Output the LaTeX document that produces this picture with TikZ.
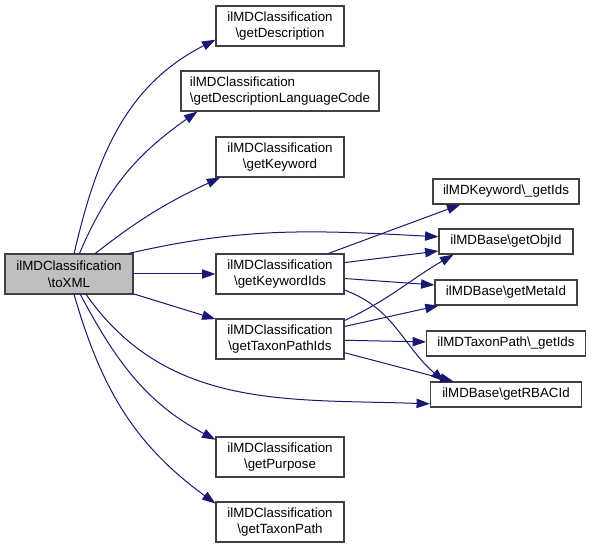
\documentclass[tikz,border=0pt]{standalone}
\usepackage{fontspec}
\setmainfont{Liberation Sans}
\usetikzlibrary{arrows.meta}
\definecolor{edgeblue}{HTML}{191970}
\definecolor{boxline}{HTML}{404040}
\definecolor{rootfill}{HTML}{BFBFBF}

\begin{document}
\begin{tikzpicture}[x=0.75pt, y=-0.75pt,
    fn/.style={draw=boxline, line width=0.9pt, fill=white, align=center,
        font=\fontsize{10}{12.5}\selectfont, inner sep=2pt,
        minimum width=96pt, minimum height=30pt},
    fnsmall/.style={fn, minimum height=18.75pt},
    call/.style={edgeblue, line width=0.75pt, -{Triangle[length=10pt,width=7pt]}}]
    \useasboundingbox (0,0) rectangle (591,548);

    % Caller
    \node[fn, fill=rootfill] (toxml) at (69,274) {ilMDClassification\\\textbackslash{}toXML};

    % Direct callees
    \node[fn] (desc) at (280,26) {ilMDClassification\\\textbackslash{}getDescription};
    \node[fn, align=left, minimum width=148.5pt] (dlc) at (280,91) {ilMDClassification\\\textbackslash{}getDescriptionLanguageCode};
    \node[fn] (kw) at (280,157) {ilMDClassification\\\textbackslash{}getKeyword};
    \node[fn] (kwids) at (280,274) {ilMDClassification\\\textbackslash{}getKeywordIds};
    \node[fn] (tpids) at (280,339) {ilMDClassification\\\textbackslash{}getTaxonPathIds};
    \node[fn] (purpose) at (280,457) {ilMDClassification\\\textbackslash{}getPurpose};
    \node[fn] (taxpath) at (280,522) {ilMDClassification\\\textbackslash{}getTaxonPath};

    % Second level
    \node[fnsmall, minimum width=109.5pt] (kwget) at (506,191.5) {ilMDKeyword\textbackslash\_getIds};
    \node[fnsmall, minimum width=100.5pt] (objid) at (506,241.5) {ilMDBase\textbackslash{}getObjId};
    \node[fnsmall, minimum width=106.5pt] (metaid) at (506,292.5) {ilMDBase\textbackslash{}getMetaId};
    \node[fnsmall, minimum width=119.25pt] (tpget) at (506,343.5) {ilMDTaxonPath\textbackslash\_getIds};
    \node[fnsmall, minimum width=113.25pt] (rbac) at (506,394.5) {ilMDBase\textbackslash{}getRBACId};

    % Calls from toXML
    \draw[call] (toxml.76) to[out=77, in=207] (desc.192);
    \draw[call] (toxml.63) to[out=67, in=215] (dlc.194);
    \draw[call] (toxml.38) to[out=38, in=205] (kw.199);
    \draw[call] (toxml.19) to[out=13, in=177] (objid.176);
    \draw[call] (toxml) -- (kwids);
    \draw[call] (toxml) -- (tpids);
    \draw[call] (toxml.-50) to[out=-55, in=178] (rbac.187);
    \draw[call] (toxml.-61) to[out=-62, in=152] (purpose.165);
    \draw[call] (toxml.-76) to[out=-74, in=144] (taxpath.164);

    % Calls from getKeywordIds
    \draw[call] (kwids.23) -- (kwget.196);
    \draw[call] (kwids.10) -- (objid.188);
    \draw[call] (kwids.-4) -- (metaid.174);
    \draw[call] (kwids.-14) to[out=-20, in=140] (rbac.168);

    % Calls from getTaxonPathIds
    \draw[call] (tpids.16) to[out=25, in=210] (objid.194);
    \draw[call] (tpids.11) -- (metaid.191);
    \draw[call] (tpids) -- (tpget);
    \draw[call] (tpids.-12) -- (rbac.166);
\end{tikzpicture}
\end{document}
